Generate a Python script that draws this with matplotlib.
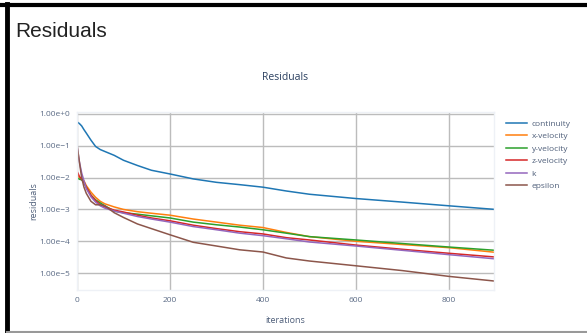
import matplotlib
matplotlib.use("Agg")
import matplotlib.pyplot as plt
from matplotlib.ticker import FuncFormatter
from matplotlib.lines import Line2D
import math

# iterations and residuals
iterations = [0, 5, 10, 15, 20, 30, 40, 50, 60, 80, 100, 130, 160, 200,
              250, 300, 350, 400, 450, 500, 600, 700, 800, 900]

continuity = [5.6e-1, 5.0e-1, 4.2e-1, 3.2e-1, 2.5e-1, 1.5e-1, 9.5e-2, 7.6e-2,
              6.6e-2, 5.0e-2, 3.5e-2, 2.4e-2, 1.7e-2, 1.3e-2, 9.1e-3, 7.1e-3,
              6.0e-3, 5.0e-3, 3.8e-3, 3.0e-3, 2.2e-3, 1.7e-3, 1.3e-3, 1.0e-3]
x_velocity = [1.3e-2, 1.0e-2, 8.9e-3, 7.9e-3, 5.6e-3, 3.5e-3, 2.4e-3, 1.8e-3,
              1.5e-3, 1.2e-3, 1.0e-3, 8.5e-4, 7.6e-4, 6.6e-4, 5.0e-4, 4.0e-4,
              3.2e-4, 2.7e-4, 1.9e-4, 1.4e-4, 1.0e-4, 7.9e-5, 6.3e-5, 4.5e-5]
y_velocity = [1.0e-2, 8.9e-3, 8.5e-3, 7.1e-3, 5.0e-3, 2.8e-3, 2.0e-3, 1.6e-3,
              1.3e-3, 8.9e-4, 7.9e-4, 7.1e-4, 6.3e-4, 5.4e-4, 4.0e-4, 3.3e-4,
              2.8e-4, 2.3e-4, 1.8e-4, 1.4e-4, 1.1e-4, 8.5e-5, 6.6e-5, 5.2e-5]
z_velocity = [1.6e-2, 1.1e-2, 8.9e-3, 7.1e-3, 5.0e-3, 2.8e-3, 1.9e-3, 1.4e-3,
              1.2e-3, 9.5e-4, 8.3e-4, 6.6e-4, 5.4e-4, 4.4e-4, 3.2e-4, 2.5e-4,
              2.0e-4, 1.7e-4, 1.3e-4, 1.1e-4, 7.6e-5, 5.6e-5, 4.2e-5, 3.2e-5]
k = [1.0e-1, 3.2e-2, 1.4e-2, 7.9e-3, 4.5e-3, 2.5e-3, 1.7e-3, 1.3e-3,
     1.1e-3, 8.9e-4, 7.6e-4, 6.0e-4, 5.0e-4, 4.0e-4, 2.9e-4, 2.3e-4,
     1.8e-4, 1.5e-4, 1.2e-4, 9.5e-5, 7.1e-5, 5.2e-5, 3.8e-5, 2.8e-5]
epsilon = [1.1e-1, 3.2e-2, 1.0e-2, 5.0e-3, 3.2e-3, 1.8e-3, 1.4e-3, 1.4e-3,
           1.3e-3, 7.9e-4, 5.6e-4, 3.5e-4, 2.5e-4, 1.6e-4, 9.3e-5, 7.1e-5,
           5.4e-5, 4.6e-5, 3.0e-5, 2.4e-5, 1.7e-5, 1.2e-5, 7.9e-6, 5.6e-6]

names = ["continuity", "x-velocity", "y-velocity", "z-velocity", "k", "epsilon"]
series = [continuity, x_velocity, y_velocity, z_velocity, k, epsilon]
colors = ["#1f77b4", "#ff7f0e", "#2ca02c", "#d62728", "#9467bd", "#8c564b"]
x_ticks = [0, 200, 400, 600, 800]
y_ticks = [1e0, 1e-1, 1e-2, 1e-3, 1e-4, 1e-5]

plt.rcParams['font.family'] = ['Open Sans', 'DejaVu Sans']

W, H = 587, 333
fig = plt.figure(figsize=(W / 100, H / 100), dpi=100)

# axes placed in pixel terms
left, right, top, bottom = 77, 494, 112, 290
ax = fig.add_axes([left / W, 1 - bottom / H, (right - left) / W, (bottom - top) / H])

for name, vals, c in zip(names, series, colors):
    ax.plot(iterations, vals, color=c, lw=1.1, label=name)

ax.set_yscale('log')
ax.set_xlim(0, 897)
ax.set_ylim(10 ** -5.53, 10 ** 0.06)
ax.set_xticks(x_ticks)
ax.set_yticks(y_ticks)
ax.minorticks_off()


def fmt(v, pos):
    e = int(round(math.log10(v)))
    s = "+" if e >= 0 else "\u2212"
    return "1.00e%s%d" % (s, abs(e))


ax.yaxis.set_major_formatter(FuncFormatter(fmt))
ax.tick_params(length=0, labelsize=6, labelcolor='#5b6b85', pad=5)
ax.grid(True, color='#bcbcbc', lw=1)
for sp in ax.spines.values():
    sp.set_color('#eef1f6')
    sp.set_linewidth(1)

ax.set_xlabel('iterations', fontsize=6.5, color='#4f5f7a', labelpad=9)
ax.set_ylabel('residuals', fontsize=6.5, color='#4f5f7a', labelpad=1)
ax.set_title('Residuals', fontsize=7.5, color='#2a3f5f', pad=23)

ax.legend(loc='upper left', bbox_to_anchor=(1.015, 0.985), frameon=False,
          fontsize=6, labelcolor='#4f5f7a', handlelength=2.6,
          handletextpad=0.5, labelspacing=0.55, borderaxespad=0.25)

fig.text(15 / W, 1 - 37 / H, 'Residuals', fontsize=15, color='#222222',
         family='Liberation Sans', va='baseline')

# screenshot frame
fig.add_artist(Line2D([0, 1], [1 - 5 / H, 1 - 5 / H], color='black', lw=3,
                      transform=fig.transFigure))
fig.add_artist(Line2D([7 / W, 7 / W], [0, 1 - 4 / H], color='black', lw=3.5,
                      transform=fig.transFigure))
fig.add_artist(Line2D([7 / W, 1], [1 - 332 / H, 1 - 332 / H], color='#999999',
                      lw=1.5, transform=fig.transFigure))

fig.savefig('out.png', dpi=100)
